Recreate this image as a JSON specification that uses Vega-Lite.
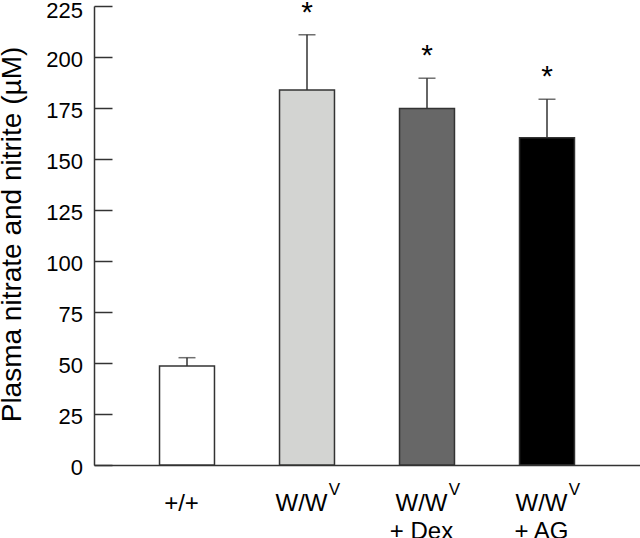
{
  "$schema": "https://vega.github.io/schema/vega-lite/v6.json",
  "width": 546,
  "height": 459,
  "autosize": {"type": "none"},
  "padding": {"left": 94, "top": 6, "right": 0, "bottom": 73},
  "background": "white",
  "config": {
    "view": {"stroke": null},
    "font": "Liberation Sans",
    "axis": {"grid": false, "domainColor": "#333333", "tickColor": "#333333", "domainWidth": 1.5, "tickWidth": 1.5, "labelColor": "#000000", "titleColor": "#000000"}
  },
  "data": {
    "values": [
      {"group": "+/+", "mean": 48.5, "err": 52.6, "star": "", "sup": ""},
      {"group": "W/W^V", "mean": 183.8, "err": 210.9, "star": "*", "sup": "V"},
      {"group": "W/W^V|+ Dex", "mean": 174.8, "err": 189.6, "star": "*", "sup": "V"},
      {"group": "W/W^V|+ AG", "mean": 160.4, "err": 179.3, "star": "*", "sup": "V"}
    ]
  },
  "encoding": {
    "x": {
      "field": "group",
      "type": "nominal",
      "sort": null,
      "scale": {"paddingInner": 0.542, "paddingOuter": 0.546},
      "axis": {
        "title": null,
        "ticks": false,
        "labelAngle": 0,
        "labelFontSize": 24,
        "labelAlign": "center",
        "labelBaseline": "top",
        "labelPadding": 26,
        "labelOffset": -5.5,
        "labelLineHeight": 28,
        "labelExpr": "split(replace(datum.label, '^V', ''), '|')"
      }
    }
  },
  "layer": [
    {
      "mark": {"type": "bar", "stroke": "#333333", "strokeWidth": 1.5},
      "encoding": {
        "y": {
          "field": "mean",
          "type": "quantitative",
          "scale": {"domain": [0, 225], "nice": false},
          "axis": {
            "values": [0, 25, 50, 75, 100, 125, 150, 175, 200, 225],
            "tickSize": -18,
            "labelPadding": 29.5,
            "labelFontSize": 22,
            "labelOffset": {"condition": {"test": "datum.value == 225", "value": 4.5}, "value": 2},
            "title": "Plasma nitrate and nitrite (µM)",
            "titleFontSize": 28,
            "titleFontWeight": "normal",
            "titleAngle": -90,
            "titleAlign": "center",
            "titleBaseline": "middle",
            "titleX": -82,
            "titleY": 228
          }
        },
        "fill": {
          "field": "group",
          "type": "nominal",
          "sort": null,
          "scale": {"range": ["#ffffff", "#d3d4d2", "#676767", "#000000"]},
          "legend": null
        }
      }
    },
    {
      "mark": {"type": "rule", "color": "#333333", "strokeWidth": 1.5},
      "encoding": {
        "y": {"field": "mean", "type": "quantitative"},
        "y2": {"field": "err"}
      }
    },
    {
      "mark": {"type": "tick", "color": "#333333", "size": 17, "thickness": 1.5, "orient": "horizontal"},
      "encoding": {
        "y": {"field": "err", "type": "quantitative"}
      }
    },
    {
      "mark": {"type": "text", "fontSize": 30, "baseline": "alphabetic", "align": "center", "dy": -13, "color": "#000000"},
      "encoding": {
        "y": {"field": "err", "type": "quantitative"},
        "text": {"field": "star"}
      }
    },
    {
      "mark": {"type": "text", "fontSize": 17, "baseline": "top", "align": "center", "dx": 27.5, "dy": 16.7, "color": "#000000"},
      "encoding": {
        "y": {"datum": 0, "type": "quantitative"},
        "text": {"field": "sup"}
      }
    }
  ]
}
